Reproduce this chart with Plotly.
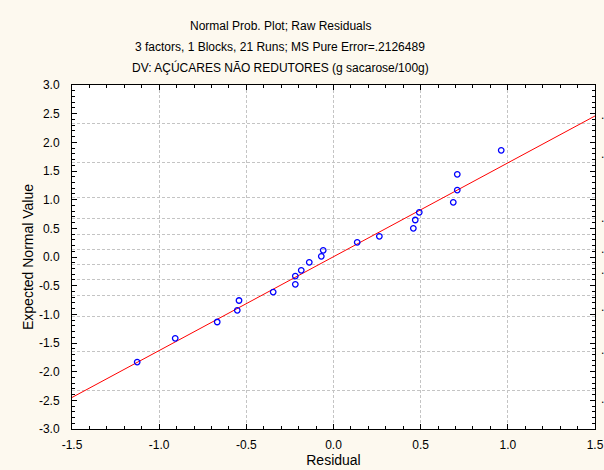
import plotly.graph_objects as go
from statistics import NormalDist

# Raw residuals and their expected normal values (21 runs)
residual = [-1.126, -0.908, -0.667, -0.552, -0.542, -0.346, -0.219, -0.219,
            -0.185, -0.139, -0.070, -0.059, 0.136, 0.263, 0.458, 0.469,
            0.492, 0.687, 0.710, 0.710, 0.962]
expected = [-1.832, -1.418, -1.134, -0.930, -0.759, -0.611, -0.476, -0.332,
            -0.232, -0.093, 0.012, 0.117, 0.256, 0.361, 0.500, 0.645,
            0.780, 0.954, 1.168, 1.442, 1.861]

# Fitted reference line
line_x = [-1.5, 1.5]
line_y = [-2.45, 2.46]

# Probability levels used for the horizontal grid
grid_probs = [0.01, 0.05, 0.15, 0.25, 0.35, 0.45, 0.55, 0.65, 0.75, 0.85, 0.95, 0.99]
grid_z = [NormalDist().inv_cdf(p) for p in grid_probs]

# Right-hand probability axis label positions (labels clipped to ".")
right_z = [2.48, 1.80, 0.68, 0.14, -0.23, -0.86, -1.62, -2.48]

x_ticks = [-1.5, -1.0, -0.5, 0.0, 0.5, 1.0, 1.5]
y_ticks = [3.0, 2.5, 2.0, 1.5, 1.0, 0.5, 0.0, -0.5, -1.0, -1.5, -2.0, -2.5, -3.0]

FONT = "Liberation Sans, Arial, sans-serif"
GRID = "#c4c4c4"
DASH = "3px,2px"

fig = go.Figure()

fig.add_trace(go.Scatter(
    x=line_x, y=line_y, mode="lines",
    line=dict(color="#ff0000", width=1), hoverinfo="skip", showlegend=False,
))
fig.add_trace(go.Scatter(
    x=residual, y=expected, mode="markers",
    marker=dict(symbol="circle-open", size=5.5, color="#0000ff",
                line=dict(width=1.3, color="#0000ff")),
    showlegend=False,
))
# invisible traces to activate the overlay axes
fig.add_trace(go.Scatter(x=[None], y=[None], yaxis="y2", showlegend=False))
fig.add_trace(go.Scatter(x=[None], y=[None], yaxis="y3", showlegend=False))

fig.update_layout(
    width=604, height=470,
    margin=dict(l=72, r=9, t=85, b=41),
    paper_bgcolor="#fdf9ef",
    plot_bgcolor="#ffffff",
    font=dict(family=FONT, size=12, color="#000000"),
    xaxis=dict(
        range=[-1.5, 1.5], tickvals=x_ticks, automargin=False,
        ticktext=[f"{v:.1f}" for v in x_ticks],
        showgrid=True, gridcolor=GRID, griddash=DASH, gridwidth=1,
        zeroline=False, showline=True, linecolor="#000000", linewidth=1,
        mirror="ticks", ticks="inside", ticklen=5, tickcolor="#000000",
        minor=dict(dtick=0.1, ticks="inside", ticklen=3, tickcolor="#000000",
                   showgrid=False),
        ticklabelstandoff=5,
        title=dict(text="Residual", standoff=3),
    ),
    yaxis=dict(
        range=[-3.0, 3.0], tickvals=y_ticks, automargin=False,
        ticktext=[f"{v:.1f}" for v in y_ticks],
        showgrid=False, zeroline=False, showline=True, linecolor="#000000",
        linewidth=1, mirror="ticks", ticks="inside", ticklen=5,
        tickcolor="#000000",
        minor=dict(dtick=0.1, ticks="inside", ticklen=3, tickcolor="#000000",
                   showgrid=False),
        ticklabelstandoff=9,
        title=dict(text="Expected Normal Value", standoff=2),
    ),
    yaxis2=dict(
        range=[-3.0, 3.0], overlaying="y", tickvals=grid_z, automargin=False,
        showticklabels=False, showgrid=True, gridcolor=GRID,
        griddash=DASH, gridwidth=1, zeroline=False, ticks="",
        showline=False,
    ),
    yaxis3=dict(
        range=[-3.0, 3.0], overlaying="y", side="right", tickvals=right_z,
        automargin=False,
        ticktext=["."] * len(right_z), showgrid=False, zeroline=False,
        ticks="", showline=False, ticklabelstandoff=5,
    ),
)

titles = [
    ("Normal Prob. Plot; Raw Residuals", 26),
    ("3 factors, 1 Blocks, 21 Runs; MS Pure Error=.2126489", 47),
    ("DV: AÇÚCARES NÃO REDUTORES (g sacarose/100g)", 68),
]
for text, ypx in titles:
    fig.add_annotation(
        text=text, xref="paper", yref="paper",
        x=(280 - 72) / (604 - 72 - 9), y=1 + (85 - ypx) / (470 - 85 - 41),
        showarrow=False, xanchor="center", yanchor="middle",
        font=dict(family=FONT, size=12, color="#000000"),
    )

fig.write_html("out.html")
